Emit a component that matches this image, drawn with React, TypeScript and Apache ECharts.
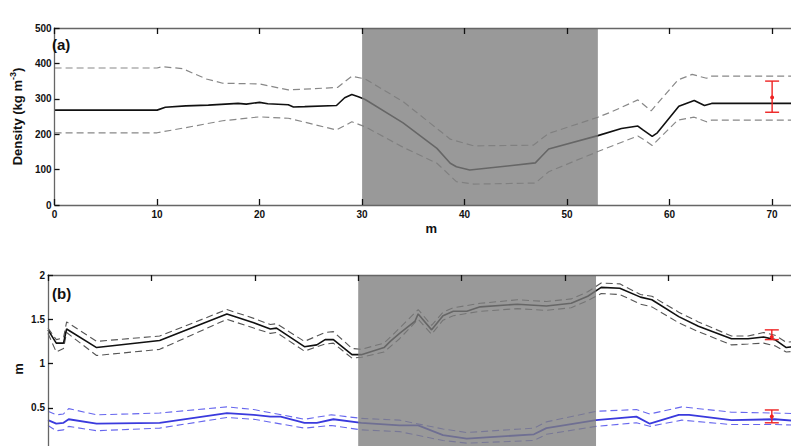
import React, { useEffect, useRef } from "react";
import * as echarts from "echarts";

// ---------- Panel (a): density ----------
const aSolidX = [0, 10, 10.8, 12.8, 15, 17.9, 18.7, 20, 20.8, 22.8, 23.3, 24.4, 27.5, 28.3, 29, 29.7, 30.3, 34, 37.3, 38.6, 39.2, 40.5, 44.4, 46.9, 47.4, 48.2, 53, 55.3, 56.9, 57.4, 58.3, 58.8, 60.9, 62.4, 63.4, 64.1, 73.5];
const aSolidY = [268, 268, 276, 280, 282, 287, 285, 290, 286, 283, 277, 278, 281, 303, 312, 305, 298, 232, 160, 118, 108, 99, 111, 119, 134, 158, 196, 216, 223, 212, 194, 204, 279, 295, 281, 287, 287];

const aUpperX = [0, 10, 10.5, 12.5, 14.8, 16.4, 20, 22.8, 27.6, 29, 30.3, 34, 38.6, 40.9, 46.7, 48.2, 53, 54.4, 56.9, 58.2, 60.8, 62.2, 63.6, 64.1, 73.5];
const aUpperY = [387, 387, 391, 385, 356, 344, 342, 325, 332, 364, 356, 292, 186, 167, 169, 202, 248, 264, 297, 266, 353, 369, 358, 364, 364];

const aLowerX = [0, 10, 12.5, 16.4, 20, 22.8, 24.4, 27.5, 29, 30.3, 34, 37.3, 39.2, 40.9, 46.9, 48.2, 53, 56.9, 57.6, 58.3, 60.8, 62.4, 63.6, 64.1, 73.5];
const aLowerY = [204, 204, 217, 238, 249, 245, 234, 212, 235, 221, 163, 118, 66, 59, 62, 94, 151, 195, 183, 168, 240, 248, 235, 240, 240];

// ---------- Panel (b): black curve ----------
const bBlackX = [0, 0.8, 1.5, 1.8, 4.7, 10.8, 17.3, 19.9, 21.5, 22.1, 24.8, 26, 26.8, 27.6, 29.4, 30.3, 32.5, 33.1, 34, 35.5, 35.8, 37.1, 38.2, 39.2, 40.5, 41.8, 45.4, 48.2, 50.6, 52.2, 53.5, 55.3, 57.3, 58.4, 61, 62.9, 66.1, 67.7, 69.2, 70.3, 71.4, 73.5];
const bBlackY = [1.38, 1.23, 1.23, 1.39, 1.18, 1.26, 1.56, 1.46, 1.39, 1.40, 1.19, 1.21, 1.27, 1.27, 1.10, 1.10, 1.18, 1.25, 1.34, 1.48, 1.56, 1.38, 1.54, 1.59, 1.59, 1.64, 1.67, 1.65, 1.68, 1.76, 1.86, 1.85, 1.75, 1.72, 1.53, 1.42, 1.28, 1.28, 1.30, 1.27, 1.18, 1.21];

const bBlackBandX = [0, 0.8, 1.5, 1.8, 4.7, 10.8, 17.3, 19.9, 21.5, 22.1, 24.8, 26.8, 27.6, 29.4, 30.3, 32.5, 34, 35.8, 37.1, 38.2, 39.2, 41.8, 45.4, 48.2, 50.6, 52.2, 53.5, 55.3, 57.3, 58.4, 61, 62.9, 66.1, 67.7, 69.2, 70.3, 71.4, 73.5];
const bBlackUpperY = [1.40, 1.27, 1.29, 1.47, 1.25, 1.31, 1.61, 1.51, 1.44, 1.45, 1.25, 1.35, 1.36, 1.17, 1.16, 1.23, 1.40, 1.61, 1.43, 1.58, 1.63, 1.68, 1.72, 1.70, 1.73, 1.81, 1.91, 1.90, 1.78, 1.76, 1.58, 1.47, 1.31, 1.31, 1.35, 1.32, 1.24, 1.26];
const bBlackLowerY = [1.34, 1.13, 1.17, 1.35, 1.09, 1.16, 1.50, 1.40, 1.34, 1.35, 1.14, 1.22, 1.23, 1.06, 1.07, 1.13, 1.28, 1.50, 1.33, 1.49, 1.54, 1.59, 1.62, 1.60, 1.63, 1.71, 1.79, 1.78, 1.67, 1.64, 1.46, 1.36, 1.21, 1.22, 1.23, 1.20, 1.13, 1.15];

// ---------- Panel (b): blue curve ----------
const bBlueX = [0, 0.8, 1.5, 2, 4.7, 10.8, 17.3, 19.9, 21.5, 22.5, 24.8, 26, 27.6, 30.3, 34, 35.8, 38.2, 40.5, 47, 48.2, 53, 56.9, 58.2, 61, 62, 66.1, 70.3, 73.5];
const bBlueY = [0.36, 0.32, 0.33, 0.37, 0.32, 0.33, 0.44, 0.42, 0.40, 0.40, 0.33, 0.33, 0.37, 0.33, 0.30, 0.30, 0.19, 0.15, 0.20, 0.27, 0.36, 0.40, 0.32, 0.42, 0.42, 0.36, 0.37, 0.34];

const bBlueBandX = [0, 0.8, 1.5, 2, 4.7, 10.8, 17.3, 19.9, 24.8, 27.4, 30.3, 34, 38.2, 40.5, 47, 48.2, 53, 56.9, 58.2, 61.3, 66.1, 70.3, 73.5];
const bBlueUpperY = [0.46, 0.42, 0.43, 0.49, 0.42, 0.44, 0.51, 0.48, 0.37, 0.42, 0.38, 0.36, 0.26, 0.22, 0.27, 0.34, 0.46, 0.48, 0.43, 0.51, 0.45, 0.44, 0.43];
const bBlueLowerY = [0.30, 0.24, 0.25, 0.29, 0.24, 0.27, 0.39, 0.37, 0.27, 0.30, 0.25, 0.23, 0.13, 0.10, 0.13, 0.20, 0.29, 0.33, 0.29, 0.36, 0.31, 0.31, 0.30];

// ---------- Error bars (x, low, mid, high) ----------
const aErrX = [70];
const aErrLow = [262];
const aErrMid = [304];
const aErrHigh = [350];
const bErrX = [70, 70];
const bErrLow = [1.27, 0.33];
const bErrMid = [1.30, 0.40];
const bErrHigh = [1.38, 0.475];

// ---------- Shaded interval ----------
const shadeStart = [30];
const shadeEnd = [53];

// axis ticks
const xTickInterval = 10;
const aYTicks = { min: 0, max: 500, interval: 100 };
const bYTicks = { min: 0, max: 2, interval: 0.5 };

const FONT = '"Liberation Sans", Arial, Helvetica, sans-serif';
const X_MIN = 0;
const X_MAX = 73.5;

const zip = (xs: number[], ys: number[]) => xs.map((x, i) => [x, ys[i]]);

export default function App() {
  const ref = useRef<HTMLDivElement>(null);

  useEffect(() => {
    if (!ref.current) return;
    const chart = echarts.init(ref.current, null, { renderer: "svg" });

    const xAxisCfg = (gridIndex: number, position: string, showLabel: boolean, extra: any = {}) => ({
      type: "value",
      gridIndex,
      position,
      min: X_MIN,
      max: X_MAX,
      interval: xTickInterval,
      z: 10,
      axisLine: { show: true, onZero: false, lineStyle: { color: "#666", width: 1.3 } },
      axisTick: { show: true, inside: true, length: 6, lineStyle: { color: "#111", width: 1.3 } },
      axisLabel: {
        show: showLabel,
        margin: 4,
        color: "#111",
        fontFamily: FONT,
        fontWeight: "bold",
        fontSize: 10,
        formatter: (v: number) => (Math.abs(v % 10) < 1e-9 ? String(v) : ""),
      },
      splitLine: { show: false },
      ...extra,
    });

    const yAxisCfg = (gridIndex: number, ticks: any, showMin: boolean, extra: any = {}) => ({
      type: "value",
      gridIndex,
      position: "left",
      min: ticks.min,
      max: ticks.max,
      interval: ticks.interval,
      z: 10,
      axisLine: { show: true, onZero: false, lineStyle: { color: "#666", width: 1.3 } },
      axisTick: { show: true, inside: true, length: 5, lineStyle: { color: "#111", width: 1.3 } },
      axisLabel: {
        margin: 3,
        color: "#111",
        fontFamily: FONT,
        fontWeight: "bold",
        fontSize: 10,
        showMinLabel: showMin,
      },
      splitLine: { show: false },
      ...extra,
    });

    const lineSeries = (xi: number, yi: number, data: number[][], color: string, width: number, dashed: boolean, z = 2) => ({
      type: "line",
      xAxisIndex: xi,
      yAxisIndex: yi,
      data,
      symbol: "none",
      showSymbol: false,
      silent: true,
      z,
      lineStyle: { color, width, type: dashed ? [7, 4] : "solid" },
    });

    const shadeSeries = (xi: number, yi: number, yMin: number, yMax: number) => ({
      type: "custom",
      xAxisIndex: xi,
      yAxisIndex: yi,
      z: 5,
      silent: true,
      data: shadeStart.map((s, i) => [s, shadeEnd[i]]),
      renderItem: (params: any, api: any) => {
        const p0 = api.coord([api.value(0), yMax]);
        const p1 = api.coord([api.value(1), yMin]);
        return {
          type: "rect",
          shape: { x: p0[0], y: p0[1], width: p1[0] - p0[0], height: p1[1] - p0[1] },
          style: { fill: "rgba(126,126,126,0.79)" },
        };
      },
    });

    const errSeries = (xi: number, yi: number, xs: number[], lo: number[], mid: number[], hi: number[]) => ({
      type: "custom",
      xAxisIndex: xi,
      yAxisIndex: yi,
      z: 8,
      silent: true,
      data: xs.map((x, i) => [x, lo[i], mid[i], hi[i]]),
      renderItem: (params: any, api: any) => {
        const pl = api.coord([api.value(0), api.value(1)]);
        const pm = api.coord([api.value(0), api.value(2)]);
        const ph = api.coord([api.value(0), api.value(3)]);
        const cap = 7;
        const st = { stroke: "#ee2222", lineWidth: 1.4 };
        return {
          type: "group",
          children: [
            { type: "line", shape: { x1: pl[0], y1: pl[1], x2: ph[0], y2: ph[1] }, style: st },
            { type: "line", shape: { x1: pl[0] - cap, y1: pl[1], x2: pl[0] + cap, y2: pl[1] }, style: st },
            { type: "line", shape: { x1: ph[0] - cap, y1: ph[1], x2: ph[0] + cap, y2: ph[1] }, style: st },
            { type: "circle", shape: { cx: pm[0], cy: pm[1], r: 2 }, style: { fill: "#ee2222" } },
          ],
        };
      },
    });

    const option: any = {
      animation: false,
      backgroundColor: "#ffffff",
      textStyle: { fontFamily: FONT },
      grid: [
        { left: 48, top: 28, width: 760, height: 177 },
        { left: 48, top: 275, width: 760, height: 177 },
      ],
      xAxis: [
        xAxisCfg(0, "bottom", true, {
          name: "m",
          nameLocation: "middle",
          nameGap: 17,
          nameTextStyle: { fontFamily: FONT, fontWeight: "bold", fontSize: 13, color: "#111" },
        }),
        xAxisCfg(0, "top", false),
        xAxisCfg(1, "bottom", false),
        xAxisCfg(1, "top", false),
      ],
      yAxis: [
        yAxisCfg(0, aYTicks, true, {
          name: "{t|Density (kg m}{s|-3}{t|)}",
          nameLocation: "middle",
          nameRotate: 90,
          nameGap: 25,
          nameTextStyle: {
            rich: {
              t: { fontFamily: FONT, fontWeight: "bold", fontSize: 13, color: "#111", lineHeight: 16, verticalAlign: "bottom" },
              s: { fontFamily: FONT, fontWeight: "bold", fontSize: 9, color: "#111", lineHeight: 16, verticalAlign: "top" },
            },
          },
        }),
        yAxisCfg(1, bYTicks, false),
      ],
      graphic: [
        {
          type: "text",
          left: 52,
          top: 37,
          z: 20,
          style: { text: "(a)", font: `bold 15px ${FONT}`, fill: "#111" },
        },
        {
          type: "text",
          left: 52,
          top: 286,
          z: 20,
          style: { text: "(b)", font: `bold 15px ${FONT}`, fill: "#111" },
        },
        {
          type: "text",
          x: 18,
          y: 369,
          rotation: Math.PI / 2,
          z: 20,
          style: { text: "m", font: `bold 13px ${FONT}`, fill: "#111", align: "center", verticalAlign: "middle" },
        },
      ],
      series: [
        // panel a
        lineSeries(0, 0, zip(aUpperX, aUpperY), "#888888", 1.2, true),
        lineSeries(0, 0, zip(aLowerX, aLowerY), "#888888", 1.2, true),
        lineSeries(0, 0, zip(aSolidX, aSolidY), "#111111", 1.6, false, 3),
        shadeSeries(0, 0, aYTicks.min, aYTicks.max),
        errSeries(0, 0, aErrX, aErrLow, aErrMid, aErrHigh),
        // panel b
        lineSeries(2, 1, zip(bBlackBandX, bBlackUpperY), "#555555", 1.1, true),
        lineSeries(2, 1, zip(bBlackBandX, bBlackLowerY), "#555555", 1.1, true),
        lineSeries(2, 1, zip(bBlackX, bBlackY), "#111111", 1.6, false, 3),
        lineSeries(2, 1, zip(bBlueBandX, bBlueUpperY), "#6666ee", 1.1, true),
        lineSeries(2, 1, zip(bBlueBandX, bBlueLowerY), "#6666ee", 1.1, true),
        lineSeries(2, 1, zip(bBlueX, bBlueY), "#3a3add", 1.8, false, 3),
        shadeSeries(2, 1, bYTicks.min, bYTicks.max),
        errSeries(2, 1, bErrX, bErrLow, bErrMid, bErrHigh),
      ],
    };

    chart.setOption(option);
    return () => chart.dispose();
  }, []);

  return (
    <div
      ref={ref}
      style={{ position: "fixed", left: 0, top: 0, width: 830, height: 470, background: "#fff" }}
    />
  );
}
